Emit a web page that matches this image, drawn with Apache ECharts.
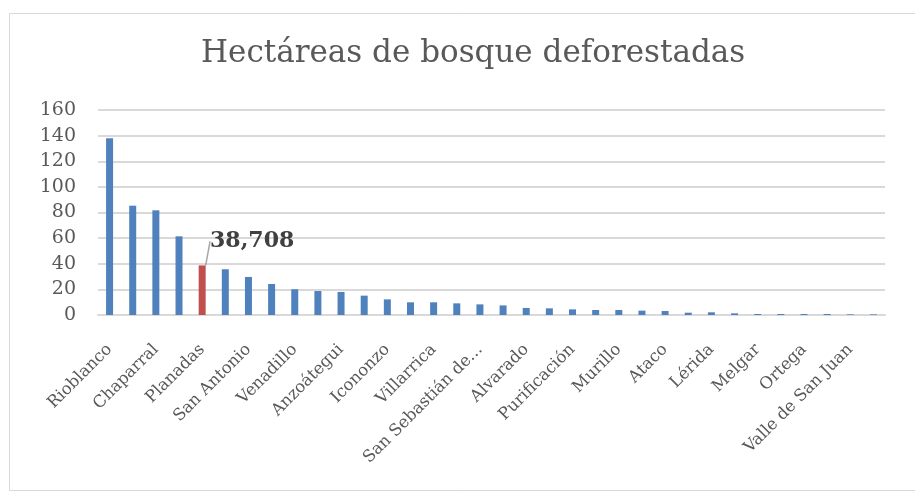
<!DOCTYPE html>
<html>
<head>
<meta charset="utf-8">
<script src="https://cdn.jsdelivr.net/npm/echarts@6/dist/echarts.min.js"></script>
<style>
  html, body { margin: 0; padding: 0; background: #fff; }
  #chart { width: 915px; height: 497px; }
</style>
</head>
<body>
<div id="chart"></div>
<script>
  // municipios (solo se ven los de posición par en el eje)
  var municipios = [
    'Rioblanco', 'Rovira', 'Chaparral', 'Líbano', 'Planadas', 'Cajamarca',
    'San Antonio', 'Dolores', 'Venadillo', 'Santa Isabel', 'Anzoátegui', 'Villahermosa',
    'Icononzo', 'Roncesvalles', 'Villarrica', 'Natagaima', 'San Sebastián de Mariquita', 'Prado',
    'Alvarado', 'Cunday', 'Purificación', 'Fresno', 'Murillo', 'Herveo',
    'Ataco', 'Casabianca', 'Lérida', 'Falan', 'Melgar', 'Honda',
    'Ortega', 'Coyaima', 'Valle de San Juan', 'Armero'
  ]
  var hectareas = [
    137.9, 85.3, 81.7, 61.4, 38.708, 35.7,
    29.7, 24.2, 20.1, 18.7, 18.0, 15.1,
    12.2, 9.9, 9.9, 9.1, 8.3, 7.5,
    5.5, 5.2, 4.4, 3.9, 3.9, 3.4,
    3.1, 1.8, 2.1, 1.3, 0.8, 0.8,
    0.8, 0.8, 0.5, 0.5
  ]
  var destacado = 4 // Planadas
  var yTicks = [0, 20, 40, 60, 80, 100, 120, 140, 160]

  var fuente = 'DejaVu Serif'
  var gris = '#595959'

  var datos = hectareas.map(function (v, i) {
    if (i !== destacado) return v
    return {
      value: v,
      itemStyle: { color: '#C0504D' },
      label: {
        show: true,
        position: 'top',
        formatter: function (p) { return String(p.value).replace('.', ',') },
        fontFamily: fuente,
        fontWeight: 'bold',
        fontSize: 22,
        color: '#404040'
      },
      labelLine: { show: true, lineStyle: { color: '#a6a6a6', width: 1.5 } }
    }
  })

  var dom = echarts.init(document.getElementById('chart'))
  var option = {
    animation: false,
    backgroundColor: '#fff',
    title: {
      text: 'Hectáreas de bosque deforestadas',
      left: 196,
      top: 33,
      textStyle: { fontFamily: fuente, fontWeight: 'normal', fontSize: 31, color: gris }
    },
    graphic: [{
      type: 'rect',
      shape: { x: 9.5, y: 13.5, width: 920, height: 477 },
      style: { fill: 'none', stroke: '#d9d9d9', lineWidth: 1 },
      silent: true
    }],
    grid: { left: 98, right: 30, top: 110, bottom: 182 },
    xAxis: {
      type: 'category',
      data: municipios,
      axisLine: { lineStyle: { color: '#d9d9d9', width: 2 } },
      axisTick: { show: false },
      axisLabel: {
        interval: 1,
        rotate: 45,
        margin: 32,
        fontFamily: fuente,
        fontSize: 16.5,
        color: gris,
        formatter: function (n) { return n.length > 20 ? n.slice(0, 16) + '...' : n }
      }
    },
    yAxis: {
      type: 'value',
      min: yTicks[0],
      max: yTicks[yTicks.length - 1],
      interval: 20,
      axisLine: { show: false },
      axisTick: { show: false },
      axisLabel: { fontFamily: fuente, fontSize: 19, color: gris, margin: 22 },
      splitLine: { lineStyle: { color: '#d9d9d9', width: 2 } }
    },
    series: [{
      type: 'bar',
      data: datos,
      barWidth: 7,
      itemStyle: { color: '#4F81BD' },
      labelLayout: function (p) {
        if (p.dataIndex === destacado) return { dx: 50, dy: -8 }
        return {}
      }
    }]
  }
  dom.setOption(option)
  window.addEventListener('resize', dom.resize)
</script>
</body>
</html>
